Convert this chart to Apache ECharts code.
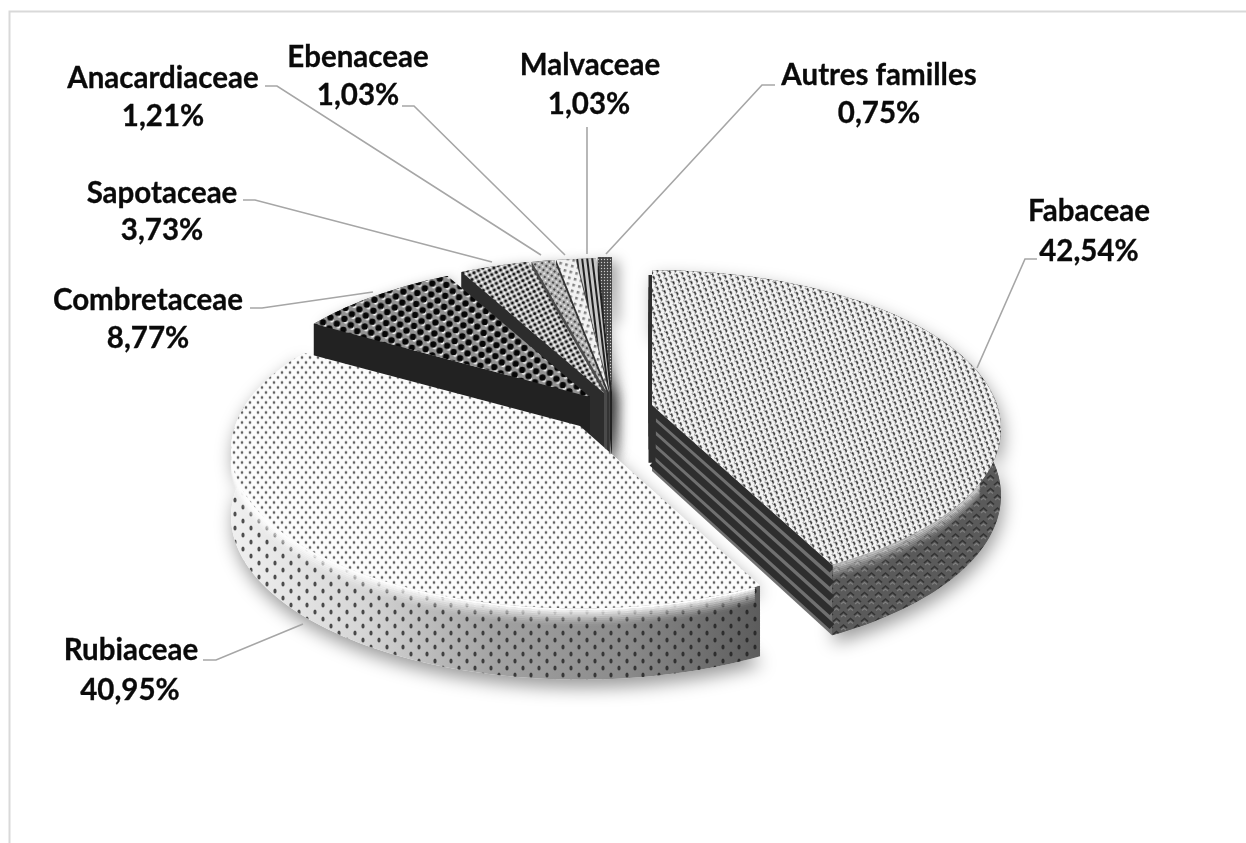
<!DOCTYPE html>
<html>
<head>
<meta charset="utf-8">
<style>html,body{margin:0;padding:0;background:#fff}#c{width:1246px;height:843px}</style>
<script src="https://cdn.jsdelivr.net/npm/echarts@6/dist/echarts.min.js"></script>
</head>
<body>
<div id="c"></div>
<script>
const categories = ['Fabaceae','Rubiaceae','Combretaceae','Sapotaceae','Anacardiaceae','Ebenaceae','Malvaceae','Autres familles'];
const shares = [42.54,40.95,8.77,3.73,1.21,1.03,1.03,0.75];
const shareLabels = ['42,54%','40,95%','8,77%','3,73%','1,21%','1,03%','1,03%','0,75%'];

// ---- layout only ----
const RX = 345, RY = 155, K = 0.15, DEPTH = 60;
const apex = [[652,405],[580,426],[590,397],[604,393],[607,393],[609,393],[610,393],[612,392]];
const labelPos = [[1089,211,1089,251],[131,650,130,690],[148,300,148,338],[162,193,162,230],[163,78,163,116],[358,57,358,95],[590,65,589,104],[879,75,879,113]];
const leaders = [
 [[1037,259],[1025,259],[977,368]],
 [[203,660],[216,660],[303,624]],
 [[250,308],[262,308],[373,292]],
 [[243,200],[255,200],[492,262]],
 [[265,86],[277,86],[541,255]],
 [[402,106],[414,106],[565,255]],
 [[587,127],[587,254]],
 [[775,85],[762,85],[606,254]]
];

function tile(w,h,bg,draw,blur){
  const c=document.createElement('canvas');c.width=w;c.height=h;
  const x=c.getContext('2d');
  if(bg){x.fillStyle=bg;x.fillRect(0,0,w,h);}
  if(blur)x.filter='blur('+blur+'px)';
  for(const dx of [-w,0,w])for(const dy of [-h,0,h]){x.save();x.translate(dx,dy);draw(x);x.restore();}
  return c;
}
function dot(x,px,py,r,col,ry){x.fillStyle=col;x.beginPath();x.ellipse(px,py,r,ry||r,0,0,7);x.fill();}

const T = {
 fabTop: tile(8,8,'#f4f4f4',x=>{
   x.strokeStyle='#1c1c1c';x.lineWidth=1.35;
   for(const [a,b] of [[0,1],[4,5]]){x.beginPath();x.moveTo(a,b);x.quadraticCurveTo(a+3,b+0.2,a+2,b+2.4);x.stroke();}
   x.strokeStyle='#777';x.lineWidth=1;
   for(const [a,b] of [[2,5],[6,1]]){x.beginPath();x.moveTo(a,b);x.lineTo(a+2,b+1);x.stroke();}
 },.35),
 fabSide: tile(14,13,'#5a5a5a',x=>{
   x.strokeStyle='#333';x.lineWidth=1.6;
   for(const [a,b] of [[0,0],[7,6.5]]){x.beginPath();x.moveTo(a,b+4);x.lineTo(a+3.5,b+1);x.lineTo(a+7,b+4);x.stroke();}
   x.strokeStyle='#7e7e7e';x.lineWidth=1.1;
   for(const [a,b] of [[0,3],[7,9.5]]){x.beginPath();x.moveTo(a+1,b+3);x.lineTo(a+3.5,b+1);x.lineTo(a+6,b+3);x.stroke();}
 },.6),
 rubTop: tile(8,10,'#fcfcfc',x=>{
   for(const [a,b] of [[2,2.5],[6,7.5]]){dot(x,a,b,1.6,'#cfcfcf',1.9);dot(x,a,b,.85,'#4c4c4c',1.2);}
 },.3),
 rubSide: tile(16,14,null,x=>{
   for(const [a,b] of [[3,3],[11,10]]){dot(x,a,b,1.6,'rgba(25,25,25,.75)',2.5);}
 },.5),
 comTop: tile(14,11,'#929292',x=>{
   for(const [a,b] of [[3.5,2.5],[10.5,8]]){dot(x,a+1.6,b+2.6,2.1,'#fafafa');dot(x,a,b,3.2,'#060606');}
 },.45),
 sapTop: tile(7,7,'#c4c4c4',x=>{
   for(const [a,b] of [[1.5,1.5],[5,5]]){dot(x,a,b,1.6,'#121212');}
   for(const [a,b] of [[5,1.5],[1.5,5]]){dot(x,a,b,1.1,'#ffffff');}
 },.3),
 anaTop: tile(5,5,'#b0b0b0',x=>{
   dot(x,1,1,1,'#282828');dot(x,3.5,3.5,1,'#f8f8f8');
 },.25),
 ebeTop: tile(6,6,'#f2f2f2',x=>{
   x.fillStyle='#808080';x.fillRect(1,1,2.6,2.6);
 },.35),
 malTop: tile(5,6,'#c8c8c8',x=>{
   x.fillStyle='#202020';x.fillRect(1,0,2,6);
 },.35),
 autTop: tile(3,3,'#444',x=>{dot(x,1.5,1.5,.7,'#ccc');},.2)
};

const style = [
 {top:{image:T.fabTop,repeat:'repeat',rotation:0.45},
  side:['#6b6b6b','#4f4f4f','#555','#666'],sideTile:{image:T.fabSide,repeat:'repeat'},rim:[118,153],rimAlpha:.55,cut:'stripes'},
 {top:{image:T.rubTop,repeat:'repeat'},
  side:['#f0f0f0','#d6d6d6','#a2a2a2','#8a8a8a','#5c5c5c'],sideTile:{image:T.rubSide,repeat:'repeat'},rim:[154,258],rimAlpha:1,cut:'#555'},
 {top:{image:T.comTop,repeat:'repeat',rotation:0.1},side:['#111','#222','#2a2a2a','#111'],cut:'#222'},
 {top:{image:T.sapTop,repeat:'repeat',rotation:0.3},side:['#222','#333'],cut:'#2c2c2c'},
 {top:{image:T.anaTop,repeat:'repeat',rotation:0.6},side:['#333','#444'],cut:'#4a4a4a'},
 {top:{image:T.ebeTop,repeat:'repeat',rotation:0.25},side:['#333','#444'],cut:'#333'},
 {top:{image:T.malTop,repeat:'repeat',rotation:-0.12},side:['#333','#444'],cut:'#444'},
 {top:{image:T.autTop,repeat:'repeat'},side:['#222','#333'],cut:'#222'}
];

const total = shares.reduce((a,b)=>a+b,0);
let acc = 0;
const spans = shares.map(v=>{const s=acc/total*360;acc+=v;return [s,acc/total*360];});

function proj(i,deg,r,dz){
  const t=deg*Math.PI/180,u=Math.sin(t)*r,v=-Math.cos(t)*r,w=1/(1-K*v);
  return [apex[i][0]+RX*u*w, apex[i][1]+RY*v*w+(dz||0)*DEPTH*(0.6+0.5*w)];
}
function arc(i,a,b,dz){
  const n=Math.max(2,Math.ceil(Math.abs(b-a)/1.5)),o=[];
  for(let j=0;j<=n;j++)o.push(proj(i,a+(b-a)*j/n,1,dz));
  return o;
}
function hgrad(cols){
  return {type:'linear',x:0,y:0,x2:1,y2:0,colorStops:cols.map((c,j)=>({offset:j/(cols.length-1),color:c}))};
}

function renderItem(params,api){
  const i=api.value(1), [a,b]=spans[i], st=style[i], base=(8-i)*20;
  const apexTop=proj(i,0,0,0), apexBot=proj(i,0,0,1);
  const top=[apexTop].concat(arc(i,a,b,0));
  const children=[];
  const wall=arc(i,a,b,0).concat(arc(i,a,b,1).reverse());
  children.push({type:'polygon',z2:1,shape:{points:[apexTop].concat(arc(i,a,b,0),arc(i,a,b,1).reverse(),[apexBot])},
    style:{fill:'#fff',shadowColor:'rgba(0,0,0,.4)',shadowBlur:i<2?18:14,shadowOffsetX:i<2?2:6,shadowOffsetY:i<2?8:4}});
  children.push({type:'polygon',z2:base+1,shape:{points:wall},style:{fill:hgrad(st.side)}});
  if(st.sideTile)children.push({type:'polygon',z2:base+2,shape:{points:wall},style:{fill:st.sideTile}});
  [[a,-1],[b,1]].forEach(([ang,sgn])=>{
    if(sgn*Math.sin(ang*Math.PI/180)<-0.001)return;
    const p0=proj(i,ang,1,0),p1=proj(i,ang,1,1);
    const pts=[apexTop,p0,p1,apexBot];
    const fill=st.cut==='stripes'?'#707070':st.cut;
    children.push({type:'polygon',z2:base+3,shape:{points:pts},style:{fill:fill}});
    if(st.cut==='stripes'){
      for(let s=0;s<5;s++){
        const f=(s+.38)/5;
        const q0=[apexTop[0]+(apexBot[0]-apexTop[0])*f,apexTop[1]+(apexBot[1]-apexTop[1])*f];
        const q1=[p0[0]+(p1[0]-p0[0])*f,p0[1]+(p1[1]-p0[1])*f];
        children.push({type:'polyline',z2:base+4,shape:{points:[q0,q1]},style:{fill:null,stroke:'#2e2e2e',lineWidth:7}});
      }
    }
  });
  if(st.rim){
    for(let s=0;s<9;s++){
      const dz=.015+s*.027, al=st.rimAlpha*Math.pow(1-s/9,1.6);
      children.push({type:'polyline',z2:base+5,shape:{points:arc(i,st.rim[0],st.rim[1],dz)},
        style:{fill:null,stroke:'rgba(252,252,252,'+al.toFixed(3)+')',lineWidth:2.2,lineCap:'butt'}});
    }
  }
  children.push({type:'polygon',z2:base+6,shape:{points:top},style:{fill:st.top}});
  return {type:'group',children};
}

const labelGraphics=[];
categories.forEach((c,i)=>{
  const p=labelPos[i],font='700 29.5px Lato, "Open Sans", sans-serif';
  const common={fill:'#0a0a0a',align:'center',verticalAlign:'middle',font,stroke:'#0a0a0a',lineWidth:.3};
  labelGraphics.push({type:'text',z:20,style:Object.assign({x:p[0],y:p[1],text:c},common)});
  labelGraphics.push({type:'text',z:20,style:Object.assign({x:p[2],y:p[3],text:shareLabels[i]},common)});
  labelGraphics.push({type:'polyline',z:19,shape:{points:leaders[i]},style:{fill:null,stroke:'#a6a6a6',lineWidth:1.6}});
});
labelGraphics.push({type:'polyline',z:0,shape:{points:[[9.5,843],[9.5,11.5],[1246,11.5]]},style:{fill:null,stroke:'#d9d9d9',lineWidth:2}});

const chart=echarts.init(document.getElementById('c'),null,{renderer:'canvas',width:1246,height:843});
chart.setOption({
  animation:false,
  backgroundColor:'#fff',
  series:[{type:'custom',coordinateSystem:'none',renderItem,silent:true,
    data:shares.map((v,i)=>[v,i,categories[i]]).reverse(),
    encode:{value:0}}],
  graphic:{elements:labelGraphics}
});
</script>
</body>
</html>
